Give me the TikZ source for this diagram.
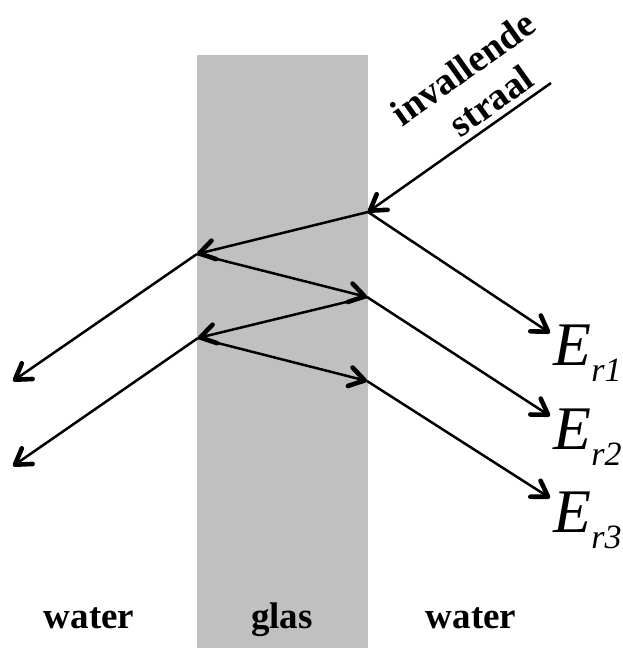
\documentclass[tikz,border=0pt]{standalone}
\usepackage{fontspec}
\setmainfont{Liberation Serif}
\usepackage{xcolor}
\usetikzlibrary{arrows.meta}

\definecolor{glasgray}{RGB}{192,192,192}
\newcommand{\Elabel}[1]{\fontsize{31}{31}\selectfont\itshape E\raisebox{-8pt}{\fontsize{17}{17}\selectfont r#1}}

\begin{document}
\begin{tikzpicture}[
    x=0.5pt, y=-0.5pt,
    ray/.style={line width=1.25pt, -{Straight Barb[length=7.5pt, width=9.5pt, line width=2.3pt, round]}},
    medium/.style={font=\bfseries\fontsize{18.5}{18.5}\selectfont, anchor=base, inner sep=0pt},
    beam/.style={font=\bfseries\fontsize{19}{19}\selectfont, rotate=35.5, inner sep=0pt},
    field/.style={anchor=base west, inner sep=0pt}
]
    \useasboundingbox (0,0) rectangle (622,648);

    % Glass slab
    \fill[glasgray] (197,55) rectangle (368,648);

    % Points on the faces
    \coordinate (src) at (551,83);
    \coordinate (p1) at (368,212);
    \coordinate (q1) at (197,254);
    \coordinate (p2) at (367,297);
    \coordinate (q2) at (198,338);
    \coordinate (p3) at (367,381);

    % Free ends
    \coordinate (t1) at (13,381);
    \coordinate (t2) at (13,466);
    \coordinate (r1) at (550,333);
    \coordinate (r2) at (550,416);
    \coordinate (r3) at (550,498);

    % Incoming beam
    \draw[ray] (src) -- (p1);
    \node[beam] (inv) at (463,68) {invallende};
    \node[beam] (str) at (491,101) {straal};

    % Bounces inside the glass
    \draw[ray] (p1) -- (q1);
    \draw[ray] (q1) -- (p2);
    \draw[ray] (p2) -- (q2);
    \draw[ray] (q2) -- (p3);

    % Transmitted to the left
    \draw[ray] (q1) -- (t1);
    \draw[ray] (q2) -- (t2);

    % Reflected to the right
    \draw[ray] (p1) -- (r1);
    \draw[ray] (p2) -- (r2);
    \draw[ray] (p3) -- (r3);
    \node[field] (er1) at (553,365) {\Elabel{1}};
    \node[field] (er2) at (553,449) {\Elabel{2}};
    \node[field] (er3) at (553,532) {\Elabel{3}};

    % Media
    \node[medium] (wl) at (89,628) {water};
    \node[medium] (gl) at (282,628) {glas};
    \node[medium] (wr) at (471,628) {water};
\end{tikzpicture}
\end{document}
